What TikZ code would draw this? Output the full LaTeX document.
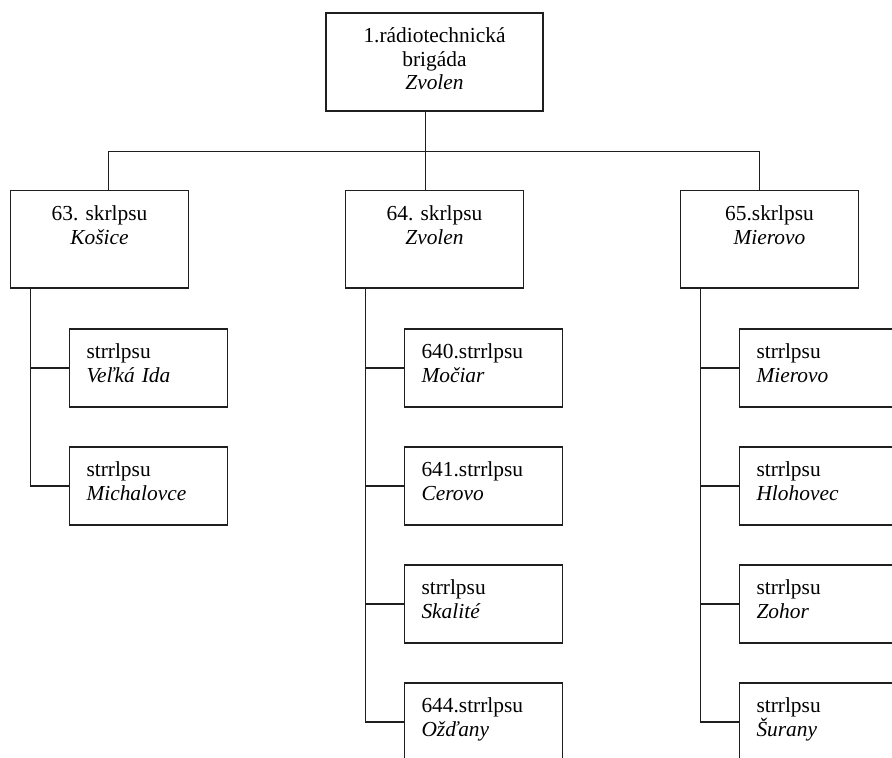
\documentclass[tikz,border=0pt]{standalone}
\usepackage{fontspec}
\setmainfont{Liberation Serif}
\usepackage{tikz}
\usetikzlibrary{trees}

\tikzset{
  drop/.style={edge from parent path={([xshift=-9pt]\tikzparentnode.south) -- ++(0,-39.7pt) -| ([xshift=#1]\tikzchildnode.north)}},
  drop/.default=-9pt
}

\begin{document}
\begin{tikzpicture}[every node/.style={shape=rectangle,draw=black!88,line width=1.7pt,inner sep=0pt,font=\fontsize{21.4}{23.6}\selectfont\frenchspacing},
      brig/.style={text width=217pt,align=center,text height=30pt,text depth=68.3pt},
      skr/.style={text width=178pt,align=center,text height=30.4pt,text depth=67.1pt},
      unit/.style={inner xsep=17pt,text width=124pt,align=left,text height=29.5pt,text depth=48.5pt},
      level 1/.style={sibling distance=335pt,level distance=177.4pt,drop},
      level 2/.style={grow via three points={one child at (49pt,-128.75pt) and two children at (49pt,-128.75pt) and (49pt,-246.75pt)},
        edge from parent path={([xshift=-69pt]\tikzparentnode.south) |- (\tikzchildnode.west)}},
      edge from parent/.style={draw=black!88,line width=1.7pt}]
      \useasboundingbox (0,0) rectangle (892pt,-758pt);
      \node[brig] (brigada) at (434.5pt,-61.85pt) {1.rádiotechnická\\brigáda\\\textit{Zvolen}}
        child[drop=9pt]{node[skr] (skr63) {63. skrlpsu\\\textit{Košice}}
                child{node[unit] (str631) {strrlpsu\\\textit{Veľká Ida}}}
                child{node[unit] (str632) {strrlpsu\\\textit{Michalovce}}}}
        child{node[skr] (skr64) {64. skrlpsu\\\textit{Zvolen}}
                child{node[unit] (str640) {640.strrlpsu\\\textit{Močiar}}}
                child{node[unit] (str641) {641.strrlpsu\\\textit{Cerovo}}}
                child{node[unit] (str642) {strrlpsu\\\textit{Skalité}}}
                child{node[unit] (str644) {644.strrlpsu\\\textit{Ožďany}}}}
        child[drop=-10pt]{node[skr] (skr65) {65.skrlpsu\\\textit{Mierovo}}
                child{node[unit] (str651) {strrlpsu\\\textit{Mierovo}}}
                child{node[unit] (str652) {strrlpsu\\\textit{Hlohovec}}}
                child{node[unit] (str653) {strrlpsu\\\textit{Zohor}}}
                child{node[unit] (str654) {strrlpsu\\\textit{Šurany}}}};
\end{tikzpicture}
\end{document}
